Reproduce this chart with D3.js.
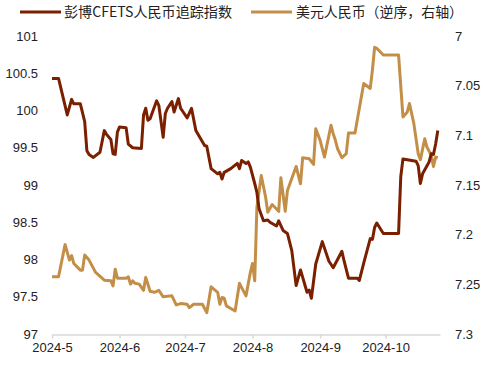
<!DOCTYPE html>
<html>
<head>
<meta charset="utf-8">
<script src="https://cdn.jsdelivr.net/npm/d3@7"></script>
<style>
  html, body { margin: 0; padding: 0; background: #fff; }
  svg { display: block; }
</style>
</head>
<body>
<div id="chart"></div>
<script>
// ---------- Data ----------
const seriesNames = ["彭博CFETS人民币追踪指数", "美元人民币（逆序，右轴）"];

const cfetsDates = [
  "2024-05-01","2024-05-04","2024-05-08","2024-05-10","2024-05-11","2024-05-14","2024-05-16","2024-05-17",
  "2024-05-18","2024-05-20","2024-05-23","2024-05-25","2024-05-26","2024-05-28","2024-05-29","2024-05-30",
  "2024-05-31","2024-06-01","2024-06-04","2024-06-05","2024-06-07","2024-06-11","2024-06-12","2024-06-13",
  "2024-06-14","2024-06-15","2024-06-18","2024-06-19","2024-06-21","2024-06-22","2024-06-23","2024-06-25",
  "2024-06-26","2024-06-28","2024-06-29","2024-07-02","2024-07-04","2024-07-06","2024-07-10","2024-07-11",
  "2024-07-13","2024-07-16","2024-07-17","2024-07-18","2024-07-19","2024-07-22","2024-07-25","2024-07-26",
  "2024-07-27","2024-07-29","2024-07-30","2024-07-31","2024-08-02","2024-08-03","2024-08-04","2024-08-06",
  "2024-08-08","2024-08-09","2024-08-12","2024-08-13","2024-08-15","2024-08-17","2024-08-19","2024-08-21",
  "2024-08-23","2024-08-26","2024-08-27","2024-08-28","2024-08-30","2024-09-02","2024-09-05","2024-09-07",
  "2024-09-11","2024-09-12","2024-09-14","2024-09-18","2024-09-19","2024-09-21","2024-09-24","2024-09-25",
  "2024-09-26","2024-09-27","2024-09-30","2024-10-07","2024-10-08","2024-10-09","2024-10-11","2024-10-15",
  "2024-10-16","2024-10-17","2024-10-18","2024-10-21","2024-10-22","2024-10-23","2024-10-24","2024-10-25"
];
const cfetsValues = [
  100.43,100.43,99.94,100.15,100.09,100.09,99.85,99.46,
  99.41,99.37,99.44,99.73,99.68,99.61,99.42,99.41,
  99.71,99.78,99.77,99.55,99.50,99.49,99.94,100.03,
  99.87,99.89,100.13,100.07,99.64,99.96,100.03,100.12,
  99.98,100.16,100.03,99.90,100.03,99.73,99.53,99.52,
  99.22,99.15,99.17,99.08,99.17,99.22,99.29,99.22,
  99.33,99.29,99.31,99.24,99.02,98.90,98.68,98.52,
  98.53,98.50,98.45,98.52,98.39,98.35,98.12,97.65,
  97.86,97.56,97.59,97.48,97.94,98.24,97.98,97.89,
  98.11,97.98,97.75,97.75,97.72,97.95,98.28,98.27,
  98.43,98.49,98.35,98.35,99.11,99.35,99.34,99.32,
  99.26,99.02,99.15,99.31,99.42,99.41,99.55,99.73
];

const usdDates = [
  "2024-05-01","2024-05-04","2024-05-07","2024-05-09","2024-05-10","2024-05-11","2024-05-14","2024-05-15",
  "2024-05-16","2024-05-18","2024-05-21","2024-05-25","2024-05-28","2024-05-29","2024-05-30","2024-05-31",
  "2024-06-04","2024-06-05","2024-06-06","2024-06-07","2024-06-08","2024-06-10","2024-06-12","2024-06-13",
  "2024-06-15","2024-06-17","2024-06-19","2024-06-21","2024-06-25","2024-06-27","2024-06-29","2024-07-02",
  "2024-07-03","2024-07-05","2024-07-09","2024-07-11","2024-07-13","2024-07-16","2024-07-17","2024-07-18",
  "2024-07-19","2024-07-20","2024-07-24","2024-07-26","2024-07-29","2024-07-31","2024-08-01","2024-08-02",
  "2024-08-03","2024-08-05","2024-08-07","2024-08-08","2024-08-10","2024-08-13","2024-08-14","2024-08-16",
  "2024-08-17","2024-08-21","2024-08-23","2024-08-24","2024-08-27","2024-08-29","2024-08-30","2024-09-01",
  "2024-09-03","2024-09-06","2024-09-07","2024-09-08","2024-09-09","2024-09-11","2024-09-13","2024-09-14",
  "2024-09-17","2024-09-21","2024-09-24","2024-09-25","2024-09-26","2024-09-27","2024-09-30","2024-10-07",
  "2024-10-09","2024-10-11","2024-10-12","2024-10-14","2024-10-16","2024-10-17","2024-10-19","2024-10-20",
  "2024-10-22","2024-10-23","2024-10-24","2024-10-25"
];
const usdValues = [
  7.2424,7.2424,7.2100,7.2256,7.2210,7.2290,7.2357,7.2357,
  7.2205,7.2256,7.2380,7.2458,7.2465,7.2515,7.2347,7.2438,
  7.2438,7.2424,7.2498,7.2465,7.2490,7.2498,7.2560,7.2430,
  7.2570,7.2580,7.2560,7.2626,7.2616,7.2707,7.2694,7.2700,
  7.2734,7.2700,7.2700,7.2785,7.2525,7.2580,7.2700,7.2633,
  7.2640,7.2717,7.2768,7.2490,7.2616,7.2380,7.2290,7.2465,
  7.1724,7.1404,7.1623,7.1775,7.1697,7.1765,7.1427,7.1765,
  7.1556,7.1313,7.1488,7.1225,7.1236,7.1293,7.0933,7.1050,
  7.1219,7.0899,7.0983,7.1050,7.1135,7.1225,7.1185,7.0977,
  7.0977,7.0478,7.0528,7.0343,7.0114,7.0124,7.0192,7.0192,
  7.0815,7.0765,7.0680,7.0882,7.1185,7.1245,7.1034,7.1118,
  7.1202,7.1313,7.1219,7.1225
];

const leftTicks = [97, 97.5, 98, 98.5, 99, 99.5, 100, 100.5, 101];
const rightTicks = [7, 7.05, 7.1, 7.15, 7.2, 7.25, 7.3];
const xTickDates = ["2024-05-01","2024-06-01","2024-07-01","2024-08-01","2024-09-01","2024-10-01"];
const xDomain = ["2024-05-01", "2024-10-26"];

const colors = ["#7a2000", "#c38f48"];

// ---------- Chart ----------
const W = 485, H = 365;
const parse = d3.timeParse("%Y-%m-%d");
const svg = d3.select("#chart").append("svg").attr("width", W).attr("height", H)
  .style("font-family", "Arial, 'Liberation Sans', sans-serif");

const x = d3.scaleTime().domain(xDomain.map(parse)).range([52, 440]);
const yL = d3.scaleLinear().domain([97, 101]).range([334, 36]);
const yR = d3.scaleLinear().domain([7.3, 7]).range([334, 36]);

// X axis
const xAxis = d3.axisBottom(x)
  .tickValues(xTickDates.map(parse))
  .tickFormat(d3.timeFormat("%Y-%-m"))
  .tickSizeInner(4).tickSizeOuter(0).tickPadding(4);
const gx = svg.append("g").attr("transform", "translate(0,334.5)").call(xAxis);
gx.select(".domain").attr("stroke", "#d9d9d9").attr("stroke-width", 1.5);
gx.selectAll(".tick line").attr("stroke", "#d9d9d9").attr("stroke-width", 1.5);
gx.selectAll(".tick text").attr("fill", "#222").style("font-size", "13px")
  .style("font-family", "Arial, 'Liberation Sans', sans-serif");

// Left axis labels
const gl = svg.append("g").attr("transform", "translate(52,0)")
  .call(d3.axisLeft(yL).tickValues(leftTicks).tickFormat(d3.format("~g")).tickSize(0).tickPadding(14));
gl.select(".domain").remove();
gl.selectAll(".tick text").attr("fill", "#222").style("font-size", "13px")
  .style("font-family", "Arial, 'Liberation Sans', sans-serif");

// Right axis labels
const gr = svg.append("g").attr("transform", "translate(440,0)")
  .call(d3.axisRight(yR).tickValues(rightTicks).tickFormat(d3.format("~g")).tickSize(0).tickPadding(15));
gr.select(".domain").remove();
gr.selectAll(".tick text").attr("fill", "#222").style("font-size", "13px")
  .style("font-family", "Arial, 'Liberation Sans', sans-serif");

// Lines
const cfetsData = cfetsDates.map((d, i) => ({ date: parse(d), v: cfetsValues[i] }));
const usdData = usdDates.map((d, i) => ({ date: parse(d), v: usdValues[i] }));

svg.append("path").datum(usdData)
  .attr("fill", "none").attr("stroke", colors[1]).attr("stroke-width", 3)
  .attr("stroke-linejoin", "round")
  .attr("d", d3.line().x(d => x(d.date)).y(d => yR(d.v)));

svg.append("path").datum(cfetsData)
  .attr("fill", "none").attr("stroke", colors[0]).attr("stroke-width", 3)
  .attr("stroke-linejoin", "round")
  .attr("d", d3.line().x(d => x(d.date)).y(d => yL(d.v)));

// Legend
const legendItems = [
  { name: seriesNames[0], color: colors[0], x0: 20, tx: 64, len: 168 },
  { name: seriesNames[1], color: colors[1], x0: 251, tx: 296, len: 167 }
];
const lg = svg.append("g");
legendItems.forEach(it => {
  lg.append("line").attr("x1", it.x0).attr("x2", it.x0 + 41).attr("y1", 12).attr("y2", 12)
    .attr("stroke", it.color).attr("stroke-width", 3);
  lg.append("text").attr("x", it.tx).attr("y", 17)
    .attr("textLength", it.len).attr("lengthAdjust", "spacingAndGlyphs")
    .style("font-family", "'Noto Sans CJK SC', sans-serif").style("font-size", "14px")
    .attr("fill", "#222").text(it.name);
});
</script>
</body>
</html>
